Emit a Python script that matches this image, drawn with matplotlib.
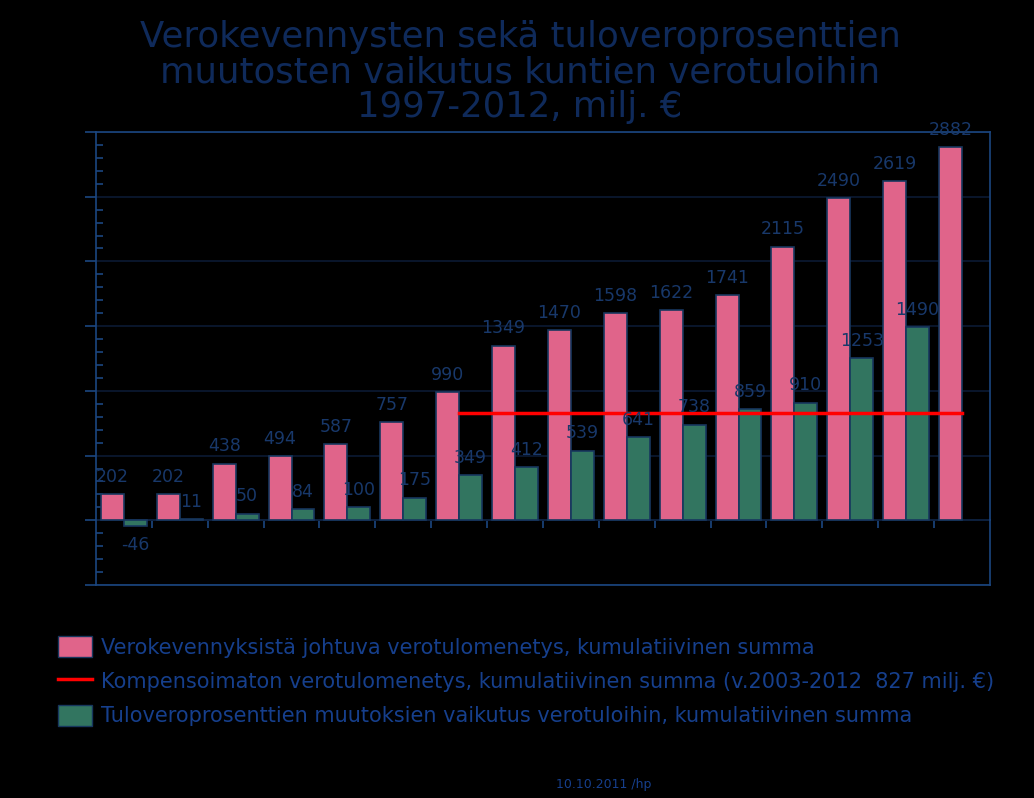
import matplotlib
import numpy as np
from matplotlib import pyplot as plt
from matplotlib.patches import Patch
from matplotlib.lines import Line2D
from matplotlib.ticker import MultipleLocator

matplotlib.use('Agg')

years = list(range(1997, 2013))
kevennys = [202, 202, 438, 494, 587, 757, 990, 1349, 1470, 1598, 1622, 1741, 2115, 2490, 2619, 2882]
tulovero = [-46, 11, 50, 84, 100, 175, 349, 412, 539, 641, 738, 859, 910, 1253, 1490]
kompensoimaton = 827
komp_start, komp_end = 2003, 2012

pink = '#E0648A'
green = '#327560'
edge = '#17375E'
navy = '#0F2A5A'
label_col = '#18386A'
legend_col = '#163F8C'
frame_col = '#1B4680'
grid_col = '#0B1A33'

fig = plt.figure(figsize=(10.34, 7.98), dpi=100, facecolor='black')
ax = fig.add_axes([0.0928, 0.2669, 0.8646, 0.5677], facecolor='black')

x = np.arange(len(years))
w = 0.41
ax.bar(x - w / 2, kevennys, w, color=pink, edgecolor=edge, linewidth=1.2, zorder=3)
xg = x[:len(tulovero)]
ax.bar(xg + w / 2, tulovero, w, color=green, edgecolor=edge, linewidth=1.2, zorder=3)

i0, i1 = years.index(komp_start), years.index(komp_end)
ax.plot([x[i0], x[i1]], [kompensoimaton, kompensoimaton], color='#FF0000', lw=2.5, zorder=4)

for xi, v in zip(x, kevennys):
    ax.annotate(str(v), (xi - w / 2, v), xytext=(0, 6), textcoords='offset points',
                ha='center', va='bottom', color=label_col, fontsize=12.5, zorder=5)
for xi, v in zip(xg, tulovero):
    if v >= 0:
        ax.annotate(str(v), (xi + w / 2, v), xytext=(0, 6), textcoords='offset points',
                    ha='center', va='bottom', color=label_col, fontsize=12.5, zorder=5)
    else:
        ax.annotate(str(v), (xi + w / 2, v), xytext=(0, -7), textcoords='offset points',
                    ha='center', va='top', color=label_col, fontsize=12.5, zorder=5)

ax.set_xlim(-0.5, len(years) - 0.5)
ax.set_ylim(-500, 3000)
ax.set_xticks([])
ax.yaxis.set_major_locator(MultipleLocator(500))
ax.yaxis.set_minor_locator(MultipleLocator(100))
ax.tick_params(axis='y', which='major', direction='out', length=8, color=frame_col,
               width=1.2, labelleft=False)
ax.tick_params(axis='y', which='minor', direction='in', length=5, color=frame_col, width=1.2)
ax.grid(axis='y', which='major', color=grid_col, lw=1.2, zorder=0)
for s in ax.spines.values():
    s.set_color(frame_col)
    s.set_linewidth(1.2)

# zero line with category ticks
zero = ax.secondary_xaxis(500 / 3500)
zero.set_xticks(x[:-1] + 0.5)
zero.tick_params(direction='out', length=6, color=frame_col, width=1.2, labelbottom=False)
zero.spines['bottom'].set_color(frame_col)
zero.spines['bottom'].set_linewidth(1.2)

fig.suptitle('Verokevennysten sekä tuloveroprosenttien\nmuutosten vaikutus kuntien verotuloihin\n1997-2012, milj. €',
             x=0.503, y=0.975, color=navy, fontsize=25.6, linespacing=1.04)

handles = [Patch(facecolor=pink, edgecolor=edge),
           Line2D([0], [0], color='#FF0000', lw=2.5),
           Patch(facecolor=green, edgecolor=edge)]
labels = ['Verokevennyksistä johtuva verotulomenetys, kumulatiivinen summa',
          'Kompensoimaton verotulomenetys, kumulatiivinen summa (v.2003-2012  827 milj. €)',
          'Tuloveroprosenttien muutoksien vaikutus verotuloihin, kumulatiivinen summa']
leg = fig.legend(handles, labels, loc='upper left', bbox_to_anchor=(0.038, 0.226),
                 frameon=False, fontsize=15, labelcolor=legend_col,
                 handlelength=1.65, handleheight=1.15, handletextpad=0.42, labelspacing=0.62)

fig.text(0.584, 0.012, '10.10.2011 /hp', color=legend_col, fontsize=9, ha='center')

fig.savefig('out.png', dpi=100, facecolor='black')
